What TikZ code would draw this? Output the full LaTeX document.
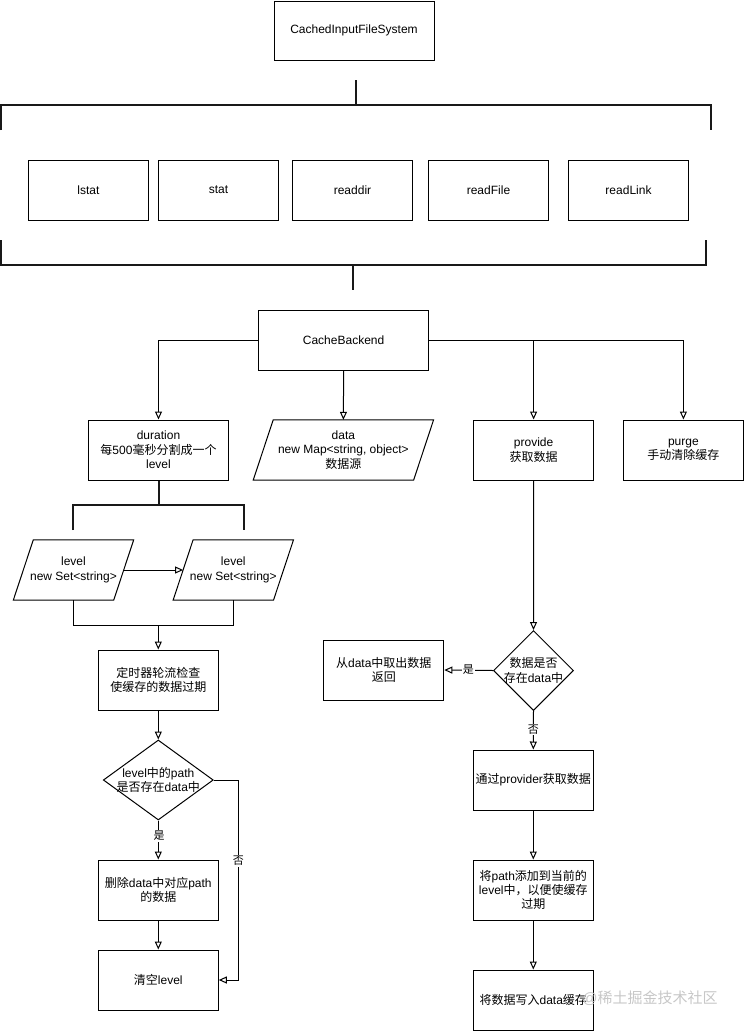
\documentclass[tikz,border=0pt]{standalone}
\usepackage{fontspec}
\setmainfont{Liberation Sans}
\newfontfamily\cjkf{Noto Sans CJK SC}
\newcommand\cj[1]{{\cjkf #1}}
\usetikzlibrary{arrows.meta,shapes.geometric}
\tikzset{
  every node/.style={font=\fontsize{12}{14.4}\selectfont},
  box/.style={draw, line width=1pt, minimum width=120pt, minimum height=60pt, inner sep=0pt, align=center},
  plain/.style={minimum width=120pt, minimum height=60pt, inner sep=0pt, align=center},
  dia/.style={draw, line width=1pt, shape=diamond, inner sep=0pt},
  conn/.style={line width=1pt},
  arr/.style={line width=1pt, -{Triangle[open, length=8pt, width=7pt]}},
  brk/.style={line width=2pt, black!90},
  lbl/.style={fill=white, inner sep=1pt, font=\fontsize{11}{12}\selectfont},
}
\begin{document}
\begin{tikzpicture}[x=1pt,y=-1pt]
\useasboundingbox (0,0) rectangle (744,1031);
% top
\node[box, minimum width=160pt, minimum height=59pt] (cifs) at (354,30.5) {CachedInputFileSystem};
\draw[brk] (355.5,80) -- (355.5,105);
\draw[brk] (1,130) -- (1,105) -- (711,105) -- (711,130);
\node[box] (lstat) at (88.5,190) {lstat};
\node[box] (stat) at (218.5,190) {stat};
\node[box] (readdir) at (352.5,190) {readdir};
\node[box] (readFile) at (488.5,190) {readFile};
\node[box] (readLink) at (628.5,190) {readLink};
\draw[brk] (1,240) -- (1,265) -- (706,265) -- (706,240);
\draw[brk] (353,265) -- (353,290);
% cache backend
\node[box, minimum width=170pt] (cb) at (343.6,340) {CacheBackend};
\node[box, minimum width=140pt] (dur) at (158.5,450) {duration\\\cj{每}500\cj{毫秒分割成一个}\\level};
\node[plain, minimum width=180pt] (data) at (343.4,450) {data\\new Map<string, object>\\\cj{数据源}};
\draw[line width=1pt] ([xshift=20pt]data.north west) -- (data.north east) -- ([xshift=-20pt]data.south east) -- (data.south west) -- cycle;
\node[box] (prov) at (533.6,450) {provide\\\cj{获取数据}};
\node[box] (purge) at (683.4,450) {purge\\\cj{手动清除缓存}};
\draw[arr] (cb.west) -| (dur.north);
\draw[arr] (cb.south) -- (data.north);
\draw[arr] (cb.east) -| (purge.north);
\draw[arr] (cb.east -| prov.north) -- (prov.north);
% levels
\coordinate (bj) at (158.5,505);
\draw[brk] (dur.south) -- (bj);
\draw[brk] (73.3,530) -- (73.3,505) -- (243.7,505) -- (243.7,530);
\node[plain] (l1) at (73.5,570) {level\\new Set<string>};
\draw[line width=1pt] ([xshift=20pt]l1.north west) -- (l1.north east) -- ([xshift=-20pt]l1.south east) -- (l1.south west) -- cycle;
\node[plain] (l2) at (233.3,570) {level\\new Set<string>};
\draw[line width=1pt] ([xshift=20pt]l2.north west) -- (l2.north east) -- ([xshift=-20pt]l2.south east) -- (l2.south west) -- cycle;
\draw[arr] ([xshift=-10pt]l1.east) -- ([xshift=10pt]l2.west);
\coordinate (m) at (158.3,625);
\node[box] (timer) at (158.3,680) {\cj{定时器轮流检查}\\\cj{使缓存的数据过期}};
\draw[conn] (l1.south) -- (l1.south |- m) -- (l2.south |- m) -- (l2.south);
\draw[arr] (m) -- (timer.north);
% diamond 1
\node[dia, minimum width=110pt, minimum height=80pt] (d1) at (158.3,780) {};
\node[align=center, inner sep=0pt] (d1t) at (158.3,780) {level\cj{中的}path\\\cj{是否存在}data\cj{中}};
\node[box] (del) at (158.3,890) {\cj{删除}data\cj{中对应}path\\\cj{的数据}};
\node[box] (clr) at (158.3,980) {\cj{清空}level};
\draw[arr] (timer.south) -- (d1.north);
\draw[arr] (d1.south) -- (del.north);
\node[lbl] (yes1) at (159,836) {\cj{是}};
\draw[arr] (del.south) -- (clr.north);
\coordinate (rx) at (238.3,780);
\draw[arr] (d1.east) -- (rx) |- (clr.east);
\node[lbl] (no1) at (238.3,861) {\cj{否}};
% diamond 2
\node[dia, minimum width=80pt, minimum height=80pt] (d2) at (533.5,670.5) {};
\node[align=center, inner sep=0pt] (d2t) at (533.5,670.5) {\cj{数据是否}\\\cj{存在}data\cj{中}};
\node[box] (fetch) at (383.8,670) {\cj{从}data\cj{中取出数据}\\\cj{返回}};
\node[box] (via) at (533.3,780) {\cj{通过}provider\cj{获取数据}};
\node[box] (addp) at (533.3,890) {\cj{将}path\cj{添加到当前的}\\level\cj{中，以便使缓存}\\\cj{过期}};
\node[box] (wr) at (533.3,1000) {\cj{将数据写入}data\cj{缓存}};
\draw[arr] (prov.south) -- (d2.north);
\draw[arr] (d2.west) -- (fetch.east);
\node[lbl] (yes2) at (468.3,670) {\cj{是}};
\draw[arr] (d2.south) -- (via.north);
\node[lbl] (no2) at (533.3,729.5) {\cj{否}};
\draw[arr] (via.south) -- (addp.north);
\draw[arr] (addp.south) -- (wr.north);
% watermark
\node[text=black!22, font=\fontsize{15}{15}\selectfont, inner sep=0pt] (wm) at (650,998) {@\cj{稀土掘金技术社区}};
\end{tikzpicture}
\end{document}
